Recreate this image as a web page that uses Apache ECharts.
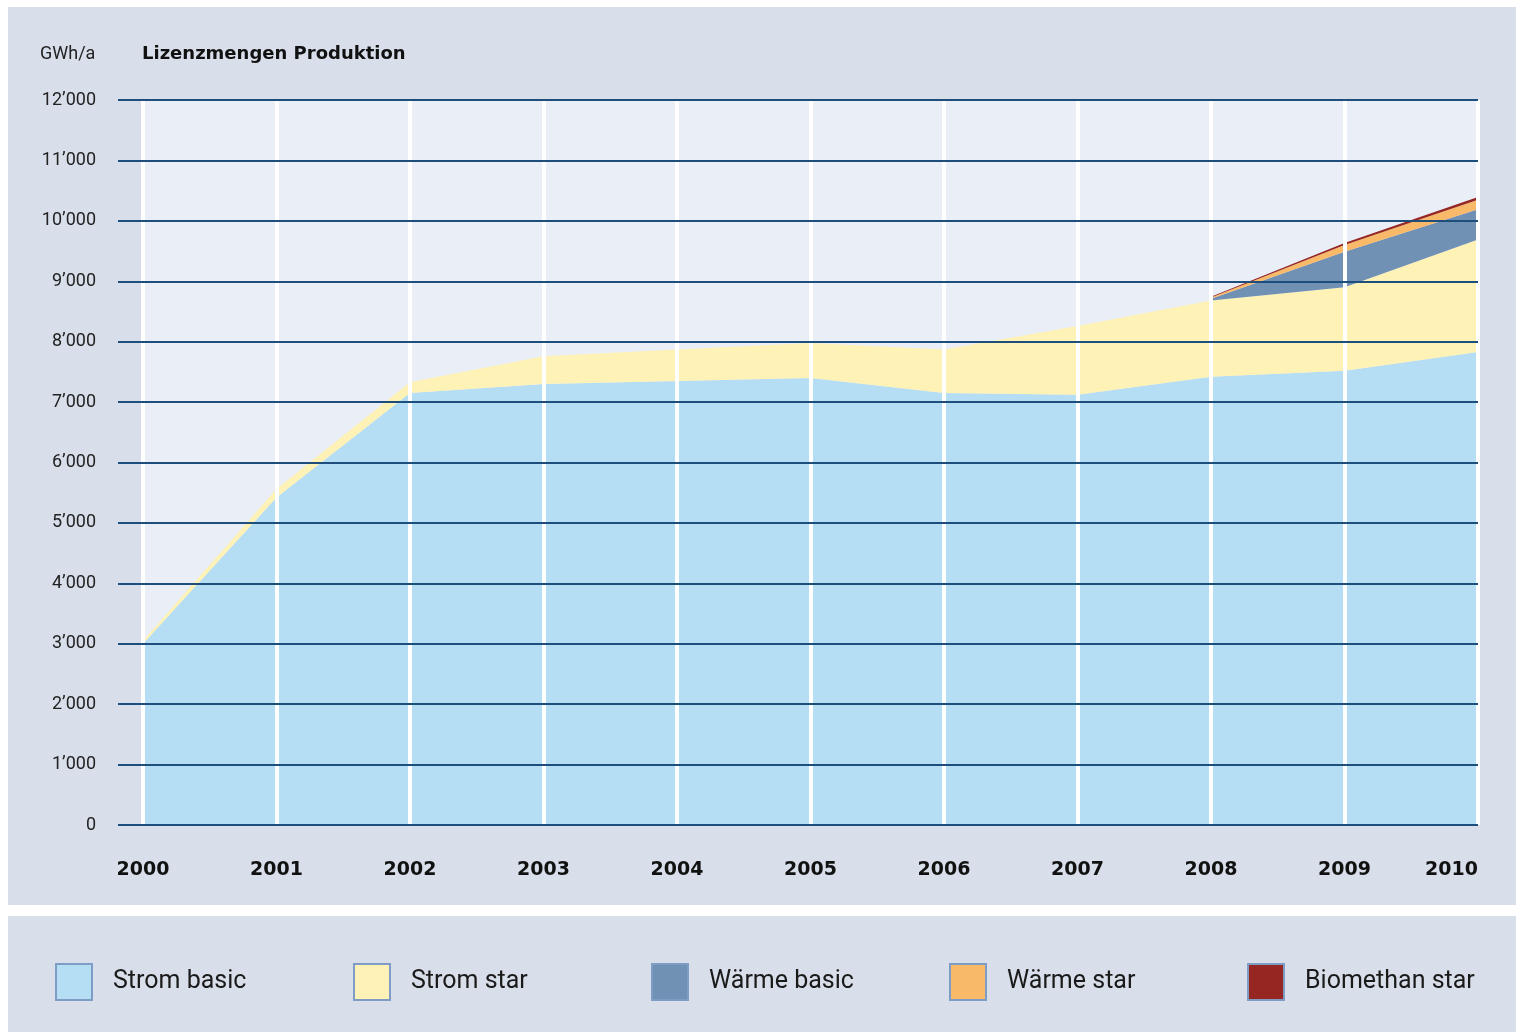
<!DOCTYPE html>
<html>
<head>
<meta charset="utf-8">
<script src="https://cdn.jsdelivr.net/npm/echarts@6/dist/echarts.min.js"></script>
<style>
  html, body { margin: 0; padding: 0; background: #ffffff; }
  #chart { width: 1516px; height: 1032px; }
</style>
</head>
<body>
<div id="chart"></div>
<script>
// Lizenzmengen Produktion, GWh/a
var years = ['2000', '2001', '2002', '2003', '2004', '2005', '2006', '2007', '2008', '2009', '2010'];
var stromBasic = [3000, 5420, 7150, 7300, 7350, 7400, 7150, 7120, 7420, 7520, 7830];
var stromStar = [50, 140, 180, 460, 520, 580, 720, 1140, 1260, 1380, 1860];
var waermeBasic = [null, null, null, null, null, null, null, null, 30, 590, 500];
var waermeStar = [null, null, null, null, null, null, null, null, 20, 110, 160];
var biomethanStar = [null, null, null, null, null, null, null, null, 15, 35, 45];

var seriesNames = ['Strom basic', 'Strom star', 'Wärme basic', 'Wärme star', 'Biomethan star'];
var seriesData = [stromBasic, stromStar, waermeBasic, waermeStar, biomethanStar];
var colors = ['#b5ddf3', '#fef2b6', '#7090b4', '#f8b968', '#962622'];

var gridColor = '#1e4e7b';
var panelColor = '#d9dfea';

function fmtThousands(v) {
    var s = String(v);
    if (v >= 1000) s = s.slice(0, s.length - 3) + '\u2019' + s.slice(s.length - 3);
    return s;
}

var series = [];
seriesNames.forEach(function (name, i) {
    series.push({
        name: name,
        type: 'line',
        stack: 'total',
        data: seriesData[i],
        symbol: 'none',
        smooth: false,
        lineStyle: { width: 0 },
        itemStyle: { color: colors[i] },
        areaStyle: { color: colors[i], opacity: 1 },
        z: 2
    });
});

// one legend per item so the spacing stays fixed
var legends = [];
seriesNames.forEach(function (name, i) {
    legends.push({
        data: [name],
        left: 55 + 298 * i,
        top: 963,
        padding: 0,
        icon: 'rect',
        itemWidth: 36,
        itemHeight: 36,
        itemStyle: { borderColor: '#7f9cc4', borderWidth: 2 },
        textStyle: { fontFamily: 'Roboto', fontSize: 25, color: '#1a1a1a', padding: [0, 0, 0, 16] },
        selectedMode: false
    });
});

var myChart = echarts.init(document.getElementById('chart'));
var option = {
    backgroundColor: '#ffffff',
    animation: false,
    graphic: [
        { type: 'rect', z: -10, shape: { x: 8, y: 7, width: 1508, height: 898 }, style: { fill: panelColor } },
        { type: 'rect', z: -10, shape: { x: 8, y: 916, width: 1508, height: 116 }, style: { fill: panelColor } }
    ],
    title: [
        {
            text: 'GWh/a',
            left: 40,
            top: 45,
            padding: 0,
            textStyle: { fontFamily: 'Roboto', fontSize: 18, fontWeight: 'normal', color: '#222' }
        },
        {
            text: 'Lizenzmengen Produktion',
            left: 142,
            top: 45,
            padding: 0,
            textStyle: { fontFamily: 'DejaVu Sans', fontSize: 18, fontWeight: 'bold', color: '#111' }
        }
    ],
    legend: legends,
    grid: {
        left: 143,
        right: 38,
        top: 100,
        bottom: 207,
        show: true,
        backgroundColor: '#eaeef6',
        borderWidth: 0
    },
    xAxis: {
        type: 'category',
        data: years,
        boundaryGap: false,
        z: 3,
        axisLine: { show: false },
        axisTick: { show: false },
        splitLine: { show: true, lineStyle: { color: '#ffffff', width: 4 } },
        axisLabel: {
            margin: 36,
            alignMaxLabel: 'right',
            fontFamily: 'DejaVu Sans',
            fontWeight: 'bold',
            fontSize: 19,
            color: '#111'
        }
    },
    yAxis: {
        type: 'value',
        min: 0,
        max: 12000,
        interval: 1000,
        z: 4,
        axisLine: { show: false },
        axisTick: { show: true, length: 25, lineStyle: { color: gridColor, width: 2 } },
        splitLine: { show: true, lineStyle: { color: gridColor, width: 2 } },
        axisLabel: {
            margin: 47,
            fontFamily: 'Roboto',
            fontSize: 18,
            color: '#222',
            formatter: fmtThousands
        }
    },
    series: series
};
myChart.setOption(option);
</script>
</body>
</html>
